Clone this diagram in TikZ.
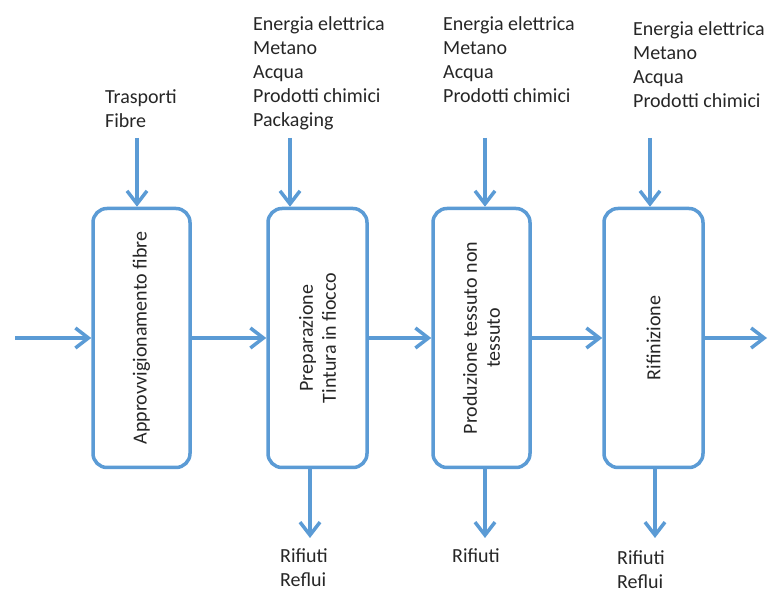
\documentclass[tikz,border=0pt]{standalone}
\usepackage{fontspec}
\setmainfont{Carlito}
\usepackage{xcolor}
\usepackage{tikz}
\usetikzlibrary{arrows.meta}
\definecolor{flowblue}{HTML}{5B9BD5}
\definecolor{flowtext}{HTML}{262626}
\tikzset{
    process/.style={
        draw=flowblue,
        line width=3.5pt,
        rounded corners=14pt,
        minimum width=97pt,
        minimum height=259pt
    },
    processlabel/.style={
        rotate=90,
        align=center,
        text=flowtext,
        font=\fontsize{20}{23}\selectfont
    },
    flowlist/.style={
        anchor=north west,
        inner sep=0pt,
        align=left,
        text=flowtext,
        font=\fontsize{20}{24}\selectfont
    },
    flow/.style={
        draw=flowblue,
        line width=3.5pt,
        -{Straight Barb[length=13pt,width=20pt]}
    }
}

\begin{document}
\begin{tikzpicture}[x=1pt,y=-1pt]
\useasboundingbox (0,0) rectangle (769,593);

\node[process] (supply) at (141.5,338) {};
\node[process, minimum width=99pt] (dyeing) at (317.5,338) {};
\node[process] (weaving) at (481.5,338) {};
\node[process, minimum width=99pt] (finishing) at (653.5,338) {};

\node[processlabel] (supply-label) at (supply) {Approvvigionamento fibre};
\node[processlabel] (dyeing-label) at (dyeing) {Preparazione\\Tintura in fiocco};
\node[processlabel] (weaving-label) at (weaving) {Produzione tessuto non\\tessuto};
\node[processlabel] (finishing-label) at (finishing) {Rifinizione};

\node[flowlist] (supply-in) at (105,89) {Trasporti\\Fibre};
\node[flowlist] (dyeing-in) at (253,16) {Energia elettrica\\Metano\\Acqua\\Prodotti chimici\\Packaging};
\node[flowlist] (weaving-in) at (443,16) {Energia elettrica\\Metano\\Acqua\\Prodotti chimici};
\node[flowlist] (finishing-in) at (633,21) {Energia elettrica\\Metano\\Acqua\\Prodotti chimici};

\node[flowlist] (dyeing-out) at (280,548) {Rifiuti\\Reflui};
\node[flowlist] (weaving-out) at (452,548) {Rifiuti};
\node[flowlist] (finishing-out) at (617,550) {Rifiuti\\Reflui};

\coordinate (start) at (15,338);
\coordinate (end) at (767,338);
\coordinate (supply-top) at (137,138);
\coordinate (dyeing-top) at (290,138);
\coordinate (weaving-top) at (485,138);
\coordinate (finishing-top) at (650,138);
\coordinate (dyeing-bottom) at (310,538);
\coordinate (weaving-bottom) at (485,538);
\coordinate (finishing-bottom) at (655,538);

\draw[flow] (start) -- (supply.west);
\draw[flow] (supply.east) -- (dyeing.west);
\draw[flow] (dyeing.east) -- (weaving.west);
\draw[flow] (weaving.east) -- (finishing.west);
\draw[flow] (finishing.east) -- (end);

\draw[flow] (supply-top) -- (supply-top |- supply.north);
\draw[flow] (dyeing-top) -- (dyeing-top |- dyeing.north);
\draw[flow] (weaving-top) -- (weaving-top |- weaving.north);
\draw[flow] (finishing-top) -- (finishing-top |- finishing.north);

\draw[flow] (dyeing-bottom |- dyeing.south) -- (dyeing-bottom);
\draw[flow] (weaving-bottom |- weaving.south) -- (weaving-bottom);
\draw[flow] (finishing-bottom |- finishing.south) -- (finishing-bottom);
\end{tikzpicture}
\end{document}
